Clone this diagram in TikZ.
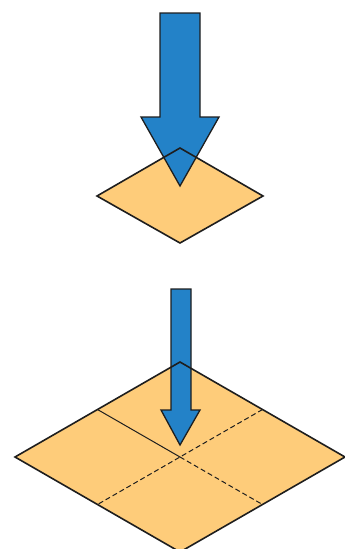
\documentclass[tikz,border=0pt]{standalone}
\usetikzlibrary{calc}
\definecolor{arrowblue}{RGB}{35,130,200}
\definecolor{tileorange}{RGB}{254,204,122}
\definecolor{inkline}{RGB}{30,30,30}
\tikzset{
  tilefill/.style={fill=tileorange},
  tileedge/.style={draw=inkline,line width=1.6pt,line join=miter},
  blockarrow/.style={fill=arrowblue,draw=inkline,line width=1.3pt,line join=miter},
  crease/.style={draw=inkline,line width=1pt},
  creasedash/.style={crease,dash pattern=on 5pt off 3pt}
}
\begin{document}
\begin{tikzpicture}[x=1pt,y=-1pt]
\useasboundingbox (0,0) rectangle (345,549);

% small tile
\coordinate (sT) at (180,148);
\coordinate (sL) at (97,196);
\coordinate (sR) at (263,196);
\coordinate (sB) at (180,243);
\fill[tilefill] (sT) -- (sR) -- (sB) -- (sL) -- cycle;
\draw[blockarrow] (160,13) -- (200,13) -- (200,117) -- (219,117)
  -- (180,186) -- (141,117) -- (160,117) -- cycle;
\draw[tileedge] (sT) -- (sR) -- (sB) -- (sL) -- cycle;

% large tile split into four
\coordinate (bT) at (180,362);
\coordinate (bL) at (15,457);
\coordinate (bR) at (345,457);
\coordinate (bB) at (180,552);
\coordinate (bC) at (180,457);
\fill[tilefill] (bT) -- (bR) -- (bB) -- (bL) -- cycle;
\draw[crease] ($(bT)!0.5!(bL)$) -- (bC);
\draw[creasedash] (bC) -- ($(bR)!0.5!(bB)$);
\draw[creasedash] ($(bT)!0.5!(bR)$) -- (bC) -- ($(bL)!0.5!(bB)$);
\draw[blockarrow] (171,289) -- (191,289) -- (191,410) -- (200,410)
  -- (180,445) -- (161,410) -- (171,410) -- cycle;
\draw[tileedge] (bT) -- (bR) -- (bB) -- (bL) -- cycle;
\end{tikzpicture}
\end{document}
